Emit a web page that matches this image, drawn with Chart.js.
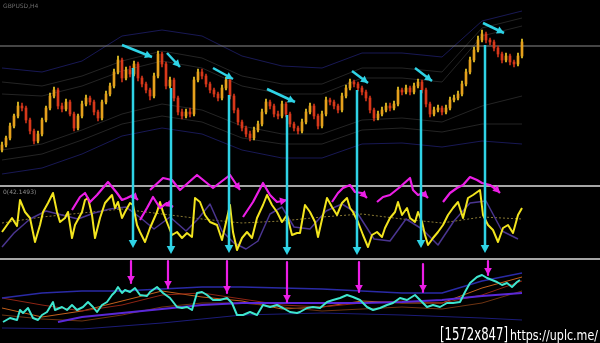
<!DOCTYPE html>
<html lang="en">
<head>
<meta charset="UTF-8">
<title>Chart</title>
<script src="https://cdn.jsdelivr.net/npm/chart.js"></script>
<style>
    html, body { margin: 0; padding: 0; background: #000; }
    #wrap { position: relative; width: 600px; height: 343px; }
</style>
</head>
<body>
<div id="wrap"><canvas id="chart" width="600" height="343"></canvas></div>
<script>
    // bar index runs 0..130, axis shows room up to 149
    const xMin = -0.5
    const xMax = 149.5

    // price panel (closes per bar)
    const closes = [41, 48, 60, 70, 80, 78, 66, 55, 45, 52,
        66, 78, 90, 96, 80, 77, 84, 72, 58, 70,
        82, 88, 84, 74, 68, 84, 92, 100, 114, 126,
        108, 116, 112, 122, 108, 102, 96, 90, 110, 132,
        122, 100, 106, 88, 74, 70, 74, 72, 106, 114,
        110, 102, 96, 92, 88, 98, 106, 90, 76, 64,
        58, 52, 48, 56, 62, 74, 84, 80, 72, 70,
        82, 72, 62, 58, 55, 64, 74, 80, 70, 60,
        72, 86, 84, 80, 76, 90, 98, 104, 102, 98,
        94, 88, 76, 68, 72, 76, 80, 78, 82, 96,
        94, 98, 94, 100, 104, 96, 82, 72, 76, 78,
        74, 78, 86, 88, 92, 102, 114, 126, 136, 146,
        152, 146, 144, 138, 132, 126, 130, 124, 122, 130,
        144]
    const highs = [44, 50, 63, 72, 84, 83, 80, 68, 57, 55,
        68, 80, 93, 99, 98, 83, 87, 86, 74, 72,
        85, 91, 90, 86, 76, 86, 95, 103, 117, 130,
        128, 119, 120, 125, 124, 110, 104, 98, 113, 135,
        134, 124, 109, 108, 90, 77, 77, 78, 109, 117,
        117, 112, 104, 98, 94, 101, 109, 108, 92, 78,
        66, 60, 55, 59, 65, 77, 87, 86, 82, 75,
        85, 84, 74, 64, 60, 67, 77, 83, 82, 72,
        75, 89, 88, 86, 82, 93, 101, 107, 106, 104,
        100, 96, 90, 78, 75, 79, 83, 83, 85, 99,
        98, 101, 100, 103, 107, 106, 98, 84, 79, 81,
        80, 81, 89, 91, 95, 105, 117, 129, 139, 150,
        156, 154, 148, 146, 140, 134, 133, 132, 126, 133,
        147]
    const lows = [34, 39, 46, 58, 68, 75, 63, 52, 42, 43,
        50, 64, 76, 88, 77, 74, 75, 70, 55, 56,
        68, 80, 81, 71, 65, 66, 82, 90, 98, 112,
        104, 106, 109, 110, 105, 99, 93, 86, 88, 108,
        119, 97, 98, 85, 71, 67, 68, 69, 70, 104,
        107, 99, 93, 89, 85, 86, 96, 87, 73, 61,
        55, 49, 45, 46, 54, 60, 72, 77, 69, 67,
        68, 69, 59, 55, 52, 53, 62, 72, 67, 57,
        58, 70, 81, 77, 73, 74, 88, 96, 99, 95,
        91, 85, 73, 65, 66, 70, 74, 75, 76, 80,
        91, 92, 91, 92, 98, 93, 79, 69, 70, 74,
        71, 72, 76, 84, 86, 90, 100, 112, 124, 134,
        144, 143, 141, 135, 129, 123, 124, 121, 119, 120,
        128]
    const firstOpen = 36
    const levelLine = 140

    // envelope bands around price
    const bandX = [0, 10, 20, 30, 40, 50, 60, 70, 80, 90, 100, 110, 120, 130]
    const bandUp1 = [92, 90, 100, 115, 125, 118, 100, 92, 92, 108, 108, 104, 150, 160]
    const bandUp2 = [104, 100, 110, 125, 135, 128, 110, 102, 102, 118, 118, 114, 158, 168]
    const bandUp3 = [118, 114, 125, 150, 156, 150, 130, 120, 118, 133, 133, 129, 165, 175]
    const bandLo1 = [36, 42, 56, 72, 82, 76, 60, 52, 52, 66, 68, 64, 80, 90]
    const bandLo2 = [26, 32, 46, 62, 70, 64, 48, 42, 42, 56, 58, 54, 62, 62]
    const bandLo3 = [12, 18, 32, 50, 58, 52, 36, 28, 28, 42, 43, 39, 45, 42]

    // oscillator panel
    const oscX = [0, 1.25, 2.5, 3.75, 4.5, 5.75, 7, 8.25, 9.5, 10.25,
        11.5, 12.75, 13.75, 14.5, 15.75, 16.5, 17.5, 18.25, 20, 20.75,
        21.5, 22.5, 23.25, 24.5, 25.75, 27.5, 28.25, 29, 30, 30.75,
        32, 32.75, 33.75, 34.5, 35.75, 37, 38.75, 39.5, 40.25, 41.5,
        42.5, 43.75, 45, 46.25, 47.5, 48.25, 49.5, 50.75, 52, 53.75,
        55, 56.25, 57, 57.75, 58.75, 60, 61.25, 62.5, 63.75, 65.25,
        66.25, 67.5, 68.75, 70, 71.25, 72.5, 73.75, 74.5, 75.75, 77,
        78.25, 79, 80.25, 81.25, 82.5, 83.75, 85, 86.25, 87, 87.75,
        89, 90.25, 91.5, 92.5, 93.75, 95, 95.75, 97, 98.25, 99,
        100, 101.25, 102, 103.25, 104, 105, 105.75, 106.5, 107.75, 109,
        110.25, 111.5, 112.75, 114, 115.25, 116.5, 117.75, 119.5, 120.25, 121.5,
        122.75, 124, 125.25, 126.5, 127.75, 129, 130]
    const oscV = [27, 34, 41, 33, 59, 47, 41, 17, 34, 47,
        56, 66, 47, 37, 41, 47, 21, 34, 47, 59,
        61, 44, 21, 41, 56, 64, 51, 57, 41, 47,
        56, 54, 34, 27, 17, 31, 47, 57, 47, 34,
        24, 27, 21, 26, 22, 61, 57, 44, 37, 34,
        19, 41, 54, 27, 9, 21, 27, 21, 41, 54,
        64, 54, 47, 37, 44, 24, 26, 26, 54, 47,
        37, 22, 44, 61, 52, 44, 56, 61, 51, 47,
        37, 24, 12, 24, 27, 22, 31, 41, 47, 57,
        44, 51, 41, 37, 47, 37, 24, 14, 21, 27,
        34, 44, 51, 57, 41, 61, 64, 69, 44, 34,
        29, 17, 31, 34, 26, 44, 51]
    const sigX = [0, 3, 7, 11, 15, 19, 23, 27, 31, 35, 38, 42, 46, 49, 52, 55, 58, 61,
        64, 67, 70, 73, 77, 81, 85, 89, 93, 97, 101, 105, 109, 113, 117, 121, 125, 129]
    const sigV = [12, 26, 40, 48, 44, 40, 46, 50, 52, 40, 30, 42, 28, 40, 55, 28, 16, 10,
        18, 45, 52, 32, 30, 48, 55, 45, 20, 18, 40, 30, 14, 38, 56, 58, 28, 20]
    const avgX = [0, 10, 20, 30, 40, 50, 60, 70, 80, 90, 100, 110, 120, 130]
    const avgV = [36, 42, 46, 50, 45, 40, 36, 38, 42, 45, 40, 36, 42, 40]

    // lower panel
    const cyanX = [0.25, 2, 3.75, 4.5, 5.25, 6.5, 7.75, 9, 10, 11.25,
        12.75, 13.25, 15, 16.25, 17.5, 18.75, 20.25, 21.5, 22.75, 23.75,
        25, 26.25, 27.5, 28.25, 29, 30, 30.75, 32, 33.25, 34.5,
        36.25, 37, 38.75, 40.25, 42, 43.75, 45, 46.25, 47.5, 48.75,
        50, 51.25, 52.75, 54.5, 56.25, 57.5, 58.75, 60.25, 62, 63.75,
        65.25, 67, 68.75, 70.25, 72, 73.75, 74.5, 76.25, 77.75, 79.5,
        81.25, 82.75, 84.5, 86.25, 87.75, 89.5, 91.25, 92.75, 94.5, 96.25,
        97.75, 99.5, 101.25, 103.25, 104.5, 106.25, 107.75, 109.5, 111.25, 112.75,
        114.5, 115.75, 117, 118.75, 120, 121.25, 122.5, 123.75, 125, 126.25,
        127.5, 128.75, 129.5]
    const cyanV = [21, 25, 23, 33, 30, 35, 25, 23, 28, 31,
        41, 33, 36, 33, 38, 33, 36, 41, 36, 31,
        38, 41, 48, 51, 56, 50, 53, 51, 55, 48,
        47, 51, 56, 50, 45, 36, 35, 36, 33, 50,
        51, 48, 43, 43, 45, 40, 28, 28, 31, 28,
        38, 36, 38, 35, 31, 30, 31, 35, 36, 35,
        41, 43, 45, 48, 46, 43, 36, 33, 35, 38,
        40, 45, 43, 48, 43, 36, 38, 36, 40, 40,
        41, 51, 60, 66, 68, 65, 63, 61, 58, 60,
        56, 61, 63]
    const maX = [0, 10, 20, 30, 40, 50, 60, 70, 80, 90, 100, 110, 120, 130]
    const maOrange = [35, 26, 32, 42, 52, 46, 42, 34, 36, 42, 40, 40, 55, 66]
    const maRed = [45, 38, 32, 38, 48, 50, 44, 38, 36, 40, 42, 40, 48, 62]
    const maBrown = [28, 24, 22, 28, 36, 40, 40, 36, 32, 34, 36, 34, 40, 52]
    const maBlue = [45, 50, 52, 52, 54, 56, 56, 55, 54, 52, 50, 50, 62, 70]
    const violetX = [14, 20, 30, 40, 50, 60, 70, 80, 90, 100, 110, 120, 130]
    const violetV = [21, 26, 30, 34, 38, 40, 40, 40, 40, 41, 43, 47, 50]
    const navyX = [0, 20, 40, 60, 80, 100, 120, 130]
    const navyV = [15, 14, 20, 28, 30, 28, 25, 23]

    // hand drawn marks
    const trendFromX = [30, 41.25, 52.75, 66.25, 87.5, 103.25, 120.25]
    const trendFromV = [141, 133, 118, 97, 115, 118, 163]
    const trendToX = [37.5, 44.5, 57.75, 73.25, 91.5, 107.5, 125.5]
    const trendToV = [129, 119, 107, 84, 103, 105, 153]

    const dropX = [32.75, 42.25, 56.75, 71.25, 88.75, 104.75, 120.75]
    const dropTop = [118, 98, 91, 71, 96, 96, 141]
    const dropBottom = [11, 5, 6, 4, 4, 11, 6]

    const pinX = [32.25, 41.5, 56.25, 71.25, 89.25, 105.25, 121.5]
    const pinTop = [82, 82, 82, 81, 81, 79, 82]
    const pinBottom = [60, 55, 50, 41, 51, 51, 68]

    const zigX = [
        [17.5, 19.5, 20.75, 22, 23.75, 26.5, 28.75, 30, 31.25, 32.75, 34],
        [34.5, 36.25, 37.75, 39.5, 41.25, 42.75],
        [37, 40.25, 42.5, 44.5, 48.75, 52.75, 57, 59.5],
        [60.25, 62.75, 65.25, 67, 68.75, 71.25],
        [82.5, 84, 85.25, 87, 88.25, 90, 91.25],
        [93.75, 95.25, 97, 99.5, 102, 102.75, 104, 105.25, 106.5],
        [110.25, 112, 113.75, 115.25, 117, 118.75, 120, 122, 123.75, 124.5]
    ]
    const zigV = [
        [49, 62, 66, 57, 64, 77, 66, 59, 61, 64, 59],
        [39, 51, 62, 51, 56, 52],
        [69, 81, 79, 69, 84, 71, 84, 69],
        [42, 57, 76, 64, 57, 59],
        [57, 66, 71, 74, 67, 66, 61],
        [57, 62, 64, 72, 81, 69, 64, 66, 61],
        [57, 66, 71, 74, 82, 79, 76, 74, 69, 66]
    ]

    const cyan = '#2fd3e6'
    const magenta = '#ec1ee6'

    function series(xs, vs, axis, color, width, extra) {
        return Object.assign({
            type: 'line',
            yAxisID: axis,
            data: xs.map((x, k) => ({x: x, y: vs[k]})),
            borderColor: color,
            borderWidth: width,
            pointRadius: 0,
            tension: 0,
            fill: false,
            borderJoinStyle: 'round'
        }, extra || {})
    }

    function head(ctx, x1, y1, x2, y2, color, size) {
        const a = Math.atan2(y2 - y1, x2 - x1)
        ctx.fillStyle = color
        ctx.beginPath()
        ctx.moveTo(x2, y2)
        ctx.lineTo(x2 - size * Math.cos(a - 0.5), y2 - size * Math.sin(a - 0.5))
        ctx.lineTo(x2 - size * Math.cos(a + 0.5), y2 - size * Math.sin(a + 0.5))
        ctx.closePath()
        ctx.fill()
    }

    function fitText(ctx, str, font, x, y, w) {
        ctx.font = font
        const m = ctx.measureText(str).width
        ctx.save()
        ctx.translate(x, y)
        ctx.scale(w / m, 1)
        ctx.fillText(str, 0, 0)
        ctx.restore()
    }

    function isUp(i) {
        return closes[i] >= (i ? closes[i - 1] : firstOpen)
    }

    const datasets = []

    // bands
    const grey = 'rgba(120,120,120,0.3)'
    const navy = 'rgba(40,40,140,0.6)'
    datasets.push(series(bandX, bandUp1, 'yP', grey, 1, {order: 20}))
    datasets.push(series(bandX, bandUp2, 'yP', grey, 1, {order: 20}))
    datasets.push(series(bandX, bandUp3, 'yP', navy, 1, {order: 20}))
    datasets.push(series(bandX, bandLo1, 'yP', grey, 1, {order: 20}))
    datasets.push(series(bandX, bandLo2, 'yP', grey, 1, {order: 20}))
    datasets.push(series(bandX, bandLo3, 'yP', navy, 1, {order: 20}))
    datasets.push(series([xMin, xMax], [levelLine, levelLine], 'yP', '#8a8a8a', 1, {order: 19}))

    // candles: wicks then bodies
    datasets.push({
        type: 'bar',
        yAxisID: 'yP',
        data: closes.map((c, i) => ({x: i, y: [lows[i], highs[i]]})),
        backgroundColor: ctx => isUp(ctx.dataIndex) ? '#f2cf2a' : '#c8321a',
        barThickness: 1,
        grouped: false,
        borderWidth: 0,
        order: 11
    })
    datasets.push({
        type: 'bar',
        yAxisID: 'yP',
        data: closes.map((c, i) => ({x: i, y: [i ? closes[i - 1] : firstOpen, c]})),
        backgroundColor: ctx => isUp(ctx.dataIndex) ? '#e6a01c' : '#d8381a',
        barThickness: 2,
        minBarLength: 1,
        grouped: false,
        borderWidth: 0,
        order: 10
    })

    // oscillator
    datasets.push(series(avgX, avgV, 'yO', '#8a7a34', 1, {borderDash: [2, 2], order: 9}))
    datasets.push(series(sigX, sigV, 'yO', '#4a3590', 1.5, {order: 8}))
    datasets.push(series(oscX, oscV, 'yO', '#f2e41e', 2, {order: 7}))

    // lower panel
    datasets.push(series(navyX, navyV, 'yM', '#1c1c78', 1, {order: 9}))
    datasets.push(series(maX, maBrown, 'yM', '#6e3412', 1, {order: 9}))
    datasets.push(series(maX, maRed, 'yM', '#8e2414', 1, {order: 9}))
    datasets.push(series(maX, maOrange, 'yM', '#c2601c', 1, {order: 9}))
    datasets.push(series(maX, maBlue, 'yM', '#2a2aa6', 1.5, {order: 8}))
    datasets.push(series(violetX, violetV, 'yM', '#5a28d8', 2, {order: 8}))
    datasets.push(series(cyanX, cyanV, 'yM', '#3ee6cf', 2, {order: 7}))

    // annotations
    for (let k = 0; k < trendFromX.length; k++) {
        datasets.push(series([trendFromX[k], trendToX[k]], [trendFromV[k], trendToV[k]], 'yP', cyan, 2.5,
            {order: 1, clip: false, head: 8}))
    }
    for (let k = 0; k < zigX.length; k++) {
        datasets.push(series(zigX[k], zigV[k], 'yO', magenta, 2.2, {order: 2, clip: false, head: 8}))
    }
    for (let k = 0; k < pinX.length; k++) {
        datasets.push(series([pinX[k], pinX[k]], [pinTop[k], pinBottom[k]], 'yM', magenta, 2.2,
            {order: 2, clip: false, head: 8}))
    }

    const overlay = {
        id: 'overlay',
        beforeDatasetsDraw(chart) {
            const ctx = chart.ctx
            const yO = chart.scales.yO
            ctx.save()
            ctx.fillStyle = '#a6a6a6'
            ctx.fillRect(0, yO.top - 1, chart.width, 2)
            ctx.fillRect(0, yO.bottom - 1, chart.width, 2)
            ctx.restore()
        },
        afterDatasetsDraw(chart) {
            const ctx = chart.ctx
            const {x, yP, yO} = chart.scales
            ctx.save()

            chart.data.datasets.forEach((ds, di) => {
                if (!ds.head) return
                const pts = chart.getDatasetMeta(di).data
                const a = pts[pts.length - 2], b = pts[pts.length - 1]
                head(ctx, a.x, a.y, b.x, b.y, ds.borderColor, ds.head)
            })

            // cyan drops from price peaks to oscillator lows
            ctx.strokeStyle = cyan
            ctx.lineWidth = 2.5
            for (let k = 0; k < dropX.length; k++) {
                const px = x.getPixelForValue(dropX[k])
                const y1 = yP.getPixelForValue(dropTop[k])
                const y2 = yO.getPixelForValue(dropBottom[k])
                ctx.beginPath()
                ctx.moveTo(px, y1)
                ctx.lineTo(px, y2 - 4)
                ctx.stroke()
                head(ctx, px, y1, px, y2, cyan, 9)
            }

            ctx.fillStyle = '#6a6a6a'
            ctx.font = '6px "DejaVu Sans"'
            ctx.fillText('GBPUSD,H4', 3, 8)
            ctx.fillStyle = '#8a8a8a'
            ctx.fillText('0(42.1493)', 3, yO.top + 8)

            ctx.fillStyle = '#ffffff'
            fitText(ctx, '[1572x847]', '17px "DejaVu Sans"', 440, 340, 68)
            fitText(ctx, 'https://uplc.me/', '14px "DejaVu Sans"', 510, 340, 88)
            ctx.restore()
        }
    }

    new Chart(document.getElementById('chart'), {
        type: 'line',
        data: {datasets: datasets},
        options: {
            responsive: false,
            animation: false,
            events: [],
            layout: {padding: 0},
            plugins: {legend: {display: false}, tooltip: {enabled: false}},
            scales: {
                x: {type: 'linear', min: xMin, max: xMax, display: false, offset: false},
                yM: {type: 'linear', min: 0, max: 84, display: false, stack: 'panes', stackWeight: 84},
                yO: {type: 'linear', min: 0, max: 73, display: false, stack: 'panes', stackWeight: 73},
                yP: {type: 'linear', min: 0, max: 186, display: false, stack: 'panes', stackWeight: 186}
            }
        },
        plugins: [overlay]
    })
</script>
</body>
</html>
